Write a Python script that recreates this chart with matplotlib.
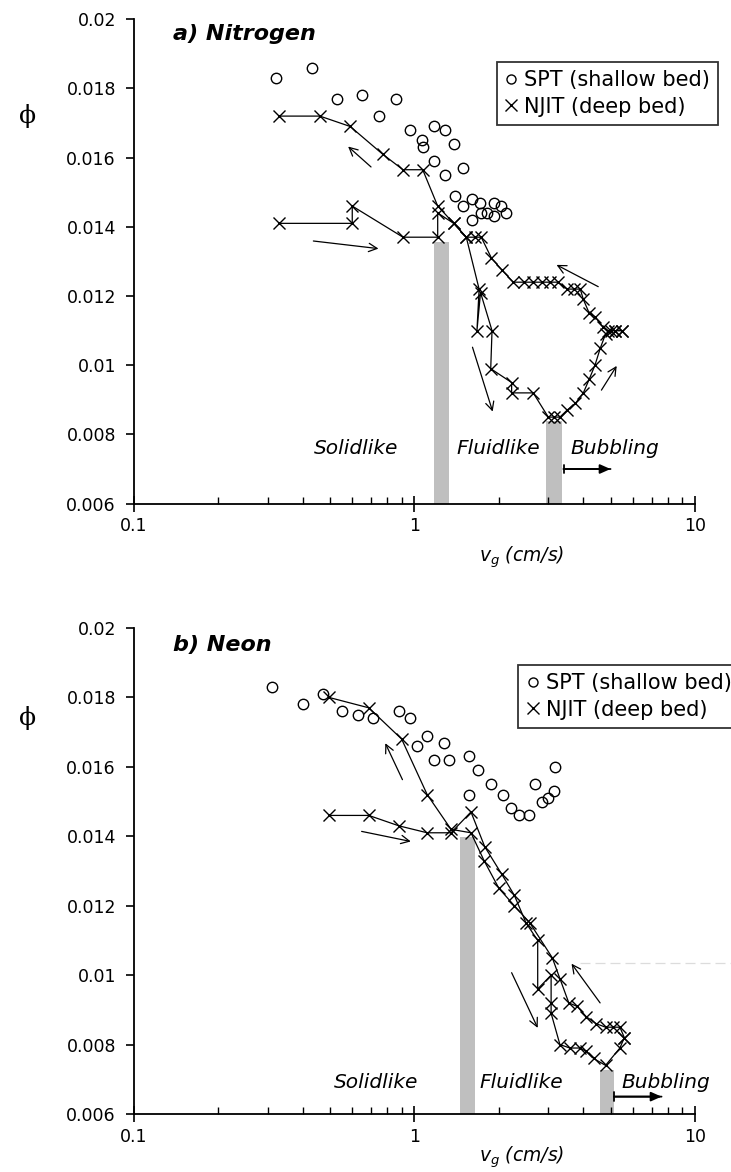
import matplotlib
matplotlib.use("Agg")
import matplotlib.pyplot as plt
from matplotlib.lines import Line2D
from matplotlib.ticker import LogLocator, NullFormatter, FixedLocator, FixedFormatter

plt.rcParams['font.family'] = ['DejaVu Sans']
plt.rcParams['mathtext.fontset'] = 'custom'
plt.rcParams['mathtext.it'] = 'DejaVu Sans:italic'
plt.rcParams['mathtext.rm'] = 'DejaVu Sans'

# ---------------- Nitrogen ----------------
n2_spt_v = [0.32, 0.43, 0.53, 0.65, 0.86, 0.75, 0.96, 1.17, 1.28, 1.06, 1.07, 1.38, 1.17,
            1.49, 1.28, 1.39, 1.60, 1.49, 1.71, 1.92, 2.03, 2.12, 1.72, 1.81, 1.92, 1.61]
n2_spt_phi = [0.0183, 0.0186, 0.0177, 0.0178, 0.0177, 0.0172, 0.0168, 0.0169, 0.0168, 0.0165,
              0.0163, 0.0164, 0.0159, 0.0157, 0.0155, 0.0149, 0.0148, 0.0146, 0.0147, 0.0147,
              0.0146, 0.0144, 0.0144, 0.0144, 0.0143, 0.0142]

n2_up_v = [0.33, 0.60, 0.60, 0.91, 1.21, 1.21, 1.38, 1.53, 1.70, 1.67, 1.72, 1.89, 1.87,
           2.22, 2.22, 2.65, 3.0, 3.15, 3.3, 3.5, 3.75, 4.0, 4.2, 4.4, 4.6, 4.8, 5.0, 5.2, 5.5]
n2_up_phi = [0.0141, 0.0141, 0.0146, 0.0137, 0.0137, 0.0144, 0.0141, 0.0137, 0.0122, 0.0110,
             0.0121, 0.0110, 0.0099, 0.0095, 0.0092, 0.0092, 0.0085, 0.0085, 0.0085, 0.0087,
             0.0089, 0.0092, 0.0096, 0.0100, 0.0105, 0.0109, 0.0110, 0.0110, 0.0110]

n2_down_v = [5.5, 5.2, 4.9, 4.7, 4.4, 4.2, 4.0, 3.9, 3.7, 3.5, 3.25, 3.05, 2.85, 2.65, 2.45,
             2.25, 2.05, 1.88, 1.73, 1.64, 1.53, 1.38, 1.21, 1.07, 0.91, 0.77, 0.59, 0.46, 0.33]
n2_down_phi = [0.0110, 0.0110, 0.0110, 0.0111, 0.0114, 0.0115, 0.0119, 0.0122, 0.0122, 0.0122,
               0.0124, 0.0124, 0.0124, 0.0124, 0.0124, 0.0124, 0.01275, 0.0131, 0.0137, 0.0137,
               0.0137, 0.0141, 0.0146, 0.01565, 0.01565, 0.0161, 0.0169, 0.0172, 0.0172]

n2_bar_left = [1.17, 2.95]
n2_bar_right = [1.33, 3.35]
n2_bar_top = [0.01357, 0.0084]

# ---------------- Neon ----------------
ne_spt_v = [0.31, 0.40, 0.47, 0.55, 0.63, 0.71, 0.88, 0.96, 1.11, 1.02, 1.27, 1.17, 1.33,
            1.57, 1.69, 1.57, 1.88, 2.07, 2.20, 2.35, 2.55, 2.69, 2.86, 2.99, 3.14, 3.17]
ne_spt_phi = [0.0183, 0.0178, 0.0181, 0.0176, 0.0175, 0.0174, 0.0176, 0.0174, 0.0169, 0.0166,
              0.0167, 0.0162, 0.0162, 0.0163, 0.0159, 0.0152, 0.0155, 0.0152, 0.0148, 0.0146,
              0.0146, 0.0155, 0.0150, 0.0151, 0.0153, 0.0160]

ne_up_v = [0.495, 0.687, 0.88, 1.11, 1.35, 1.59, 1.78, 2.05, 2.27, 2.50, 2.75, 2.75, 3.07,
           3.07, 3.07, 3.30, 3.58, 3.90, 4.10, 4.35, 4.80, 5.40, 5.60]
ne_up_phi = [0.0146, 0.0146, 0.0143, 0.0141, 0.0141, 0.0147, 0.0137, 0.0129, 0.0123, 0.0115,
             0.0110, 0.0096, 0.0100, 0.0092, 0.0089, 0.0080, 0.0079, 0.0079, 0.0078, 0.0076,
             0.0074, 0.0079, 0.0082]

ne_down_v = [5.6, 5.4, 5.1, 4.8, 4.45, 4.1, 3.8, 3.55, 3.3, 3.1, 2.58, 2.27, 2.0, 1.77,
             1.59, 1.35, 1.11, 0.90, 0.687, 0.495]
ne_down_phi = [0.0082, 0.0085, 0.0085, 0.0085, 0.0086, 0.0088, 0.0091, 0.0092, 0.0099, 0.0105,
               0.0115, 0.0120, 0.0125, 0.0133, 0.0141, 0.0142, 0.0152, 0.0168, 0.0177, 0.0180]

ne_bar_left = [1.45, 4.58]
ne_bar_right = [1.65, 5.14]
ne_bar_top = [0.01398, 0.00727]

regime_labels = ['Solidlike', 'Fluidlike', 'Bubbling']
legend_labels = ['SPT (shallow bed)', 'NJIT (deep bed)']
y_ticks = [0.006, 0.008, 0.01, 0.012, 0.014, 0.016, 0.018, 0.02]
y_tick_labels = ['0.006', '0.008', '0.01', '0.012', '0.014', '0.016', '0.018', '0.02']
x_ticks = [0.1, 1, 10]
x_tick_labels = ['0.1', '1', '10']

panels = [
    dict(title='a) Nitrogen', spt=(n2_spt_v, n2_spt_phi), up=(n2_up_v, n2_up_phi),
         down=(n2_down_v, n2_down_phi),
         bars=(n2_bar_left, n2_bar_right, n2_bar_top),
         label_x=[0.62, 1.99, 5.2], label_y=0.0076,
         bubble_arrow=(3.4, 5.0, 0.0070),
         arrows=[((0.70, 0.01573), (0.58, 0.01632)),
                 ((0.436, 0.01359), (0.744, 0.01337)),
                 ((1.61, 0.01052), (1.90, 0.00866)),
                 ((4.52, 0.01227), (3.21, 0.0129)),
                 ((4.64, 0.00928), (5.26, 0.00998))],
         rect=[0.1833, 0.5703, 0.7674, 0.4133], legend_anchor=(0.982, 0.9471),
         phi_y=0.0172, xlabel_y=0.5247, title_y=0.969),
    dict(title='b) Neon', spt=(ne_spt_v, ne_spt_phi), up=(ne_up_v, ne_up_phi),
         down=(ne_down_v, ne_down_phi),
         bars=(ne_bar_left, ne_bar_right, ne_bar_top),
         label_x=[0.73, 2.4, 7.9], label_y=0.0069,
         bubble_arrow=(5.14, 7.6, 0.0065),
         arrows=[((0.906, 0.01563), (0.787, 0.01668)),
                 ((0.648, 0.01414), (0.97, 0.01385)),
                 ((2.22, 0.01007), (2.75, 0.00848)),
                 ((4.59, 0.0092), (3.63, 0.01033))],
         rect=[0.1833, 0.0495, 0.7674, 0.4147], legend_anchor=(1.012, 0.4326),
         phi_y=0.0174, xlabel_y=0.0125, title_y=0.965),
]

fig = plt.figure(figsize=(7.31, 11.72), dpi=100)

for i, p in enumerate(panels):
    ax = fig.add_axes(p['rect'])
    ax.set_xscale('log')
    ax.set_xlim(0.1, 10)
    ax.set_ylim(0.006, 0.02)

    # regime boundaries
    left, right, top = p['bars']
    for l, r, t in zip(left, right, top):
        ax.bar(l, t - 0.006, width=r - l, bottom=0.006, align='edge',
               color='#bfbfbf', edgecolor='none', zorder=1)

    # NJIT hysteresis loop (increasing and decreasing gas velocity)
    ax.plot(*p['up'], color='black', lw=0.9, marker='x', ms=8.5, mew=1.0, zorder=3)
    ax.plot(*p['down'], color='black', lw=0.9, marker='x', ms=8.5, mew=1.0, zorder=3)
    # SPT points
    ax.plot(*p['spt'], ls='none', marker='o', ms=7.5, mfc='none', mec='black', mew=1.0,
            zorder=4)

    for (x0, y0), (x1, y1) in p['arrows']:
        ax.annotate('', xy=(x1, y1), xytext=(x0, y0),
                    arrowprops=dict(arrowstyle='->', lw=0.9, color='black',
                                    mutation_scale=15, shrinkA=0, shrinkB=0))

    for name, lx in zip(regime_labels, p['label_x']):
        ax.text(lx, p['label_y'], name, ha='center', va='center', fontsize=14.5,
                style='italic', clip_on=False)

    bx0, bx1, by = p['bubble_arrow']
    ax.annotate('', xy=(bx1, by), xytext=(bx0, by),
                arrowprops=dict(arrowstyle='|-|,widthA=0.3,widthB=0', lw=1.3, color='black',
                                shrinkA=0, shrinkB=0), annotation_clip=False)
    ax.annotate('', xy=(bx1, by), xytext=(bx0, by),
                arrowprops=dict(arrowstyle='-|>,head_length=0.45,head_width=0.2', lw=1.3,
                                color='black', mutation_scale=14, shrinkA=0, shrinkB=0),
                annotation_clip=False)

    if i == 1:
        # faint horizontal line crossing the right side of the neon panel
        ax.plot([3.9, 14], [0.01035, 0.01035], color='#dcdcdc', lw=0.9, ls=(0, (8, 4)),
                clip_on=False, zorder=0)

    ax.text(0.0695, p['title_y'], p['title'], transform=ax.transAxes, fontsize=16,
            fontweight='bold', style='italic', ha='left', va='center')

    # axes styling
    for s in ('top', 'right'):
        ax.spines[s].set_visible(False)
    ax.spines['left'].set_linewidth(1.3)
    ax.spines['bottom'].set_linewidth(1.3)
    ax.set_yticks(y_ticks)
    ax.set_yticklabels(y_tick_labels)
    ax.tick_params(axis='y', direction='out', length=6, width=1.2, labelsize=12.5, pad=7)
    ax.xaxis.set_major_locator(FixedLocator(x_ticks))
    ax.xaxis.set_major_formatter(FixedFormatter(x_tick_labels))
    ax.xaxis.set_minor_locator(LogLocator(base=10, subs=range(2, 10)))
    ax.xaxis.set_minor_formatter(NullFormatter())
    ax.tick_params(axis='x', which='major', direction='inout', length=12, width=1.2,
                   labelsize=12.5, pad=4)
    ax.tick_params(axis='x', which='minor', direction='in', length=5, width=1.0)

    ax.text(-0.19, p['phi_y'], '\u03d5', transform=ax.get_yaxis_transform(),
            fontsize=18, family=['DejaVu Serif'], ha='center', va='center')

    fig.text(0.713, p['xlabel_y'], r'$v_g$ (cm/s)', fontsize=13.5, style='italic',
             ha='center', va='center')

    handles = [Line2D([], [], ls='none', marker='o', ms=6.5, mfc='none', mec='black', mew=1.0),
               Line2D([], [], ls='none', marker='x', ms=9, mec='black', mew=1.0)]
    leg = fig.legend(handles, legend_labels,
                     loc='upper right', bbox_to_anchor=p['legend_anchor'],
                     frameon=True, fancybox=False, fontsize=15, handlelength=0.6,
                     handletextpad=0.3, borderpad=0.4, labelspacing=0.3,
                     borderaxespad=0)
    leg.get_frame().set_edgecolor('black')
    leg.get_frame().set_linewidth(1.3)

fig.savefig('out.png', dpi=100)
